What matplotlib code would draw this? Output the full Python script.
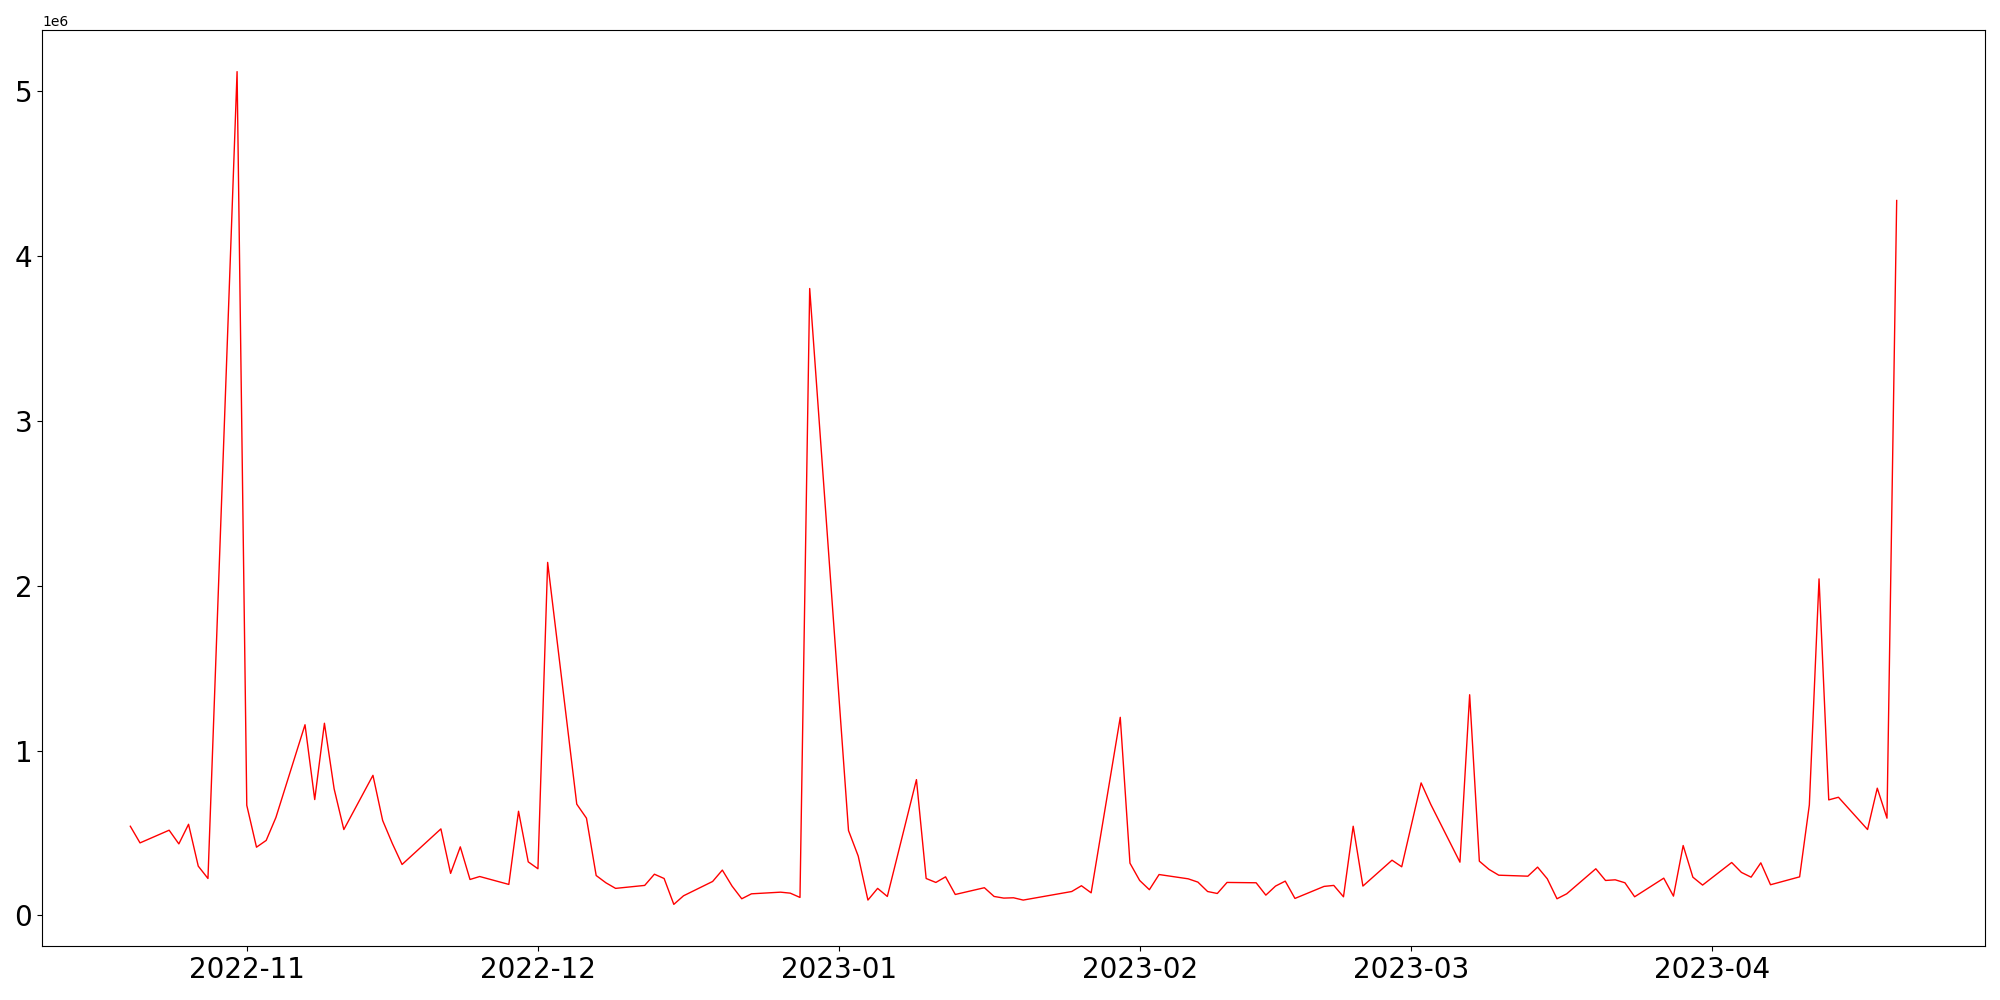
#! /usr/bin/env python3
# -*- coding: utf-8 -*-
"""Daily volume series, red line, Oct 2022 - Apr 2023."""

import sys
import pandas as pd
import matplotlib
matplotlib.use("Agg")
import matplotlib.pyplot as plt


dates = [
    "2022-10-20", "2022-10-21", "2022-10-24", "2022-10-25", "2022-10-26",
    "2022-10-27", "2022-10-28", "2022-10-31", "2022-11-01", "2022-11-02",
    "2022-11-03", "2022-11-04", "2022-11-07", "2022-11-08", "2022-11-09",
    "2022-11-10", "2022-11-11", "2022-11-14", "2022-11-15", "2022-11-16",
    "2022-11-17", "2022-11-21", "2022-11-22", "2022-11-23", "2022-11-24",
    "2022-11-25", "2022-11-28", "2022-11-29", "2022-11-30", "2022-12-01",
    "2022-12-02", "2022-12-05", "2022-12-06", "2022-12-07", "2022-12-08",
    "2022-12-09", "2022-12-12", "2022-12-13", "2022-12-14", "2022-12-15",
    "2022-12-16", "2022-12-19", "2022-12-20", "2022-12-21", "2022-12-22",
    "2022-12-23", "2022-12-26", "2022-12-27", "2022-12-28", "2022-12-29",
    "2023-01-02", "2023-01-03", "2023-01-04", "2023-01-05", "2023-01-06",
    "2023-01-09", "2023-01-10", "2023-01-11", "2023-01-12", "2023-01-13",
    "2023-01-16", "2023-01-17", "2023-01-18", "2023-01-19", "2023-01-20",
    "2023-01-25", "2023-01-26", "2023-01-27", "2023-01-30", "2023-01-31",
    "2023-02-01", "2023-02-02", "2023-02-03", "2023-02-06", "2023-02-07",
    "2023-02-08", "2023-02-09", "2023-02-10", "2023-02-13", "2023-02-14",
    "2023-02-15", "2023-02-16", "2023-02-17", "2023-02-20", "2023-02-21",
    "2023-02-22", "2023-02-23", "2023-02-24", "2023-02-27", "2023-02-28",
    "2023-03-02", "2023-03-03", "2023-03-06", "2023-03-07", "2023-03-08",
    "2023-03-09", "2023-03-10", "2023-03-13", "2023-03-14", "2023-03-15",
    "2023-03-16", "2023-03-17", "2023-03-20", "2023-03-21", "2023-03-22",
    "2023-03-23", "2023-03-24", "2023-03-27", "2023-03-28", "2023-03-29",
    "2023-03-30", "2023-03-31", "2023-04-03", "2023-04-04", "2023-04-05",
    "2023-04-06", "2023-04-07", "2023-04-10", "2023-04-11", "2023-04-12",
    "2023-04-13", "2023-04-14", "2023-04-17", "2023-04-18", "2023-04-19",
    "2023-04-20",
]

# volume in millions
volume_m = [
    0.541, 0.440, 0.517, 0.434, 0.553,
    0.299, 0.224, 5.120, 0.668, 0.414,
    0.455, 0.594, 1.157, 0.703, 1.166,
    0.768, 0.521, 0.850, 0.576, 0.436,
    0.309, 0.525, 0.255, 0.416, 0.218,
    0.236, 0.188, 0.632, 0.325, 0.283,
    2.142, 0.675, 0.590, 0.242, 0.198,
    0.164, 0.182, 0.250, 0.224, 0.067,
    0.119, 0.206, 0.275, 0.178, 0.101,
    0.131, 0.141, 0.135, 0.109, 3.804,
    0.515, 0.360, 0.093, 0.164, 0.115,
    0.824, 0.224, 0.200, 0.234, 0.127,
    0.168, 0.115, 0.105, 0.107, 0.093,
    0.145, 0.180, 0.137, 1.202, 0.317,
    0.212, 0.156, 0.248, 0.222, 0.202,
    0.145, 0.133, 0.200, 0.198, 0.123,
    0.178, 0.208, 0.103, 0.176, 0.182,
    0.113, 0.541, 0.178, 0.335, 0.295,
    0.804, 0.673, 0.323, 1.339, 0.329,
    0.279, 0.244, 0.238, 0.293, 0.222,
    0.101, 0.131, 0.283, 0.212, 0.216,
    0.198, 0.113, 0.226, 0.117, 0.424,
    0.232, 0.184, 0.321, 0.261, 0.232,
    0.319, 0.186, 0.234, 0.670, 2.042,
    0.701, 0.717, 0.521, 0.772, 0.590,
    4.338,
]


def main():
    x = pd.to_datetime(dates)
    y = [v * 1e6 for v in volume_m]

    fig, ax = plt.subplots(figsize=(20, 10), dpi=100)
    ax.plot(x, y, color="red", linewidth=1)
    ax.tick_params(axis="both", labelsize=20)

    fig.subplots_adjust(left=0.021, right=0.9925, top=0.97, bottom=0.054)
    fig.savefig("out.png")
    return


if __name__ == "__main__":
    sys.exit(main())
